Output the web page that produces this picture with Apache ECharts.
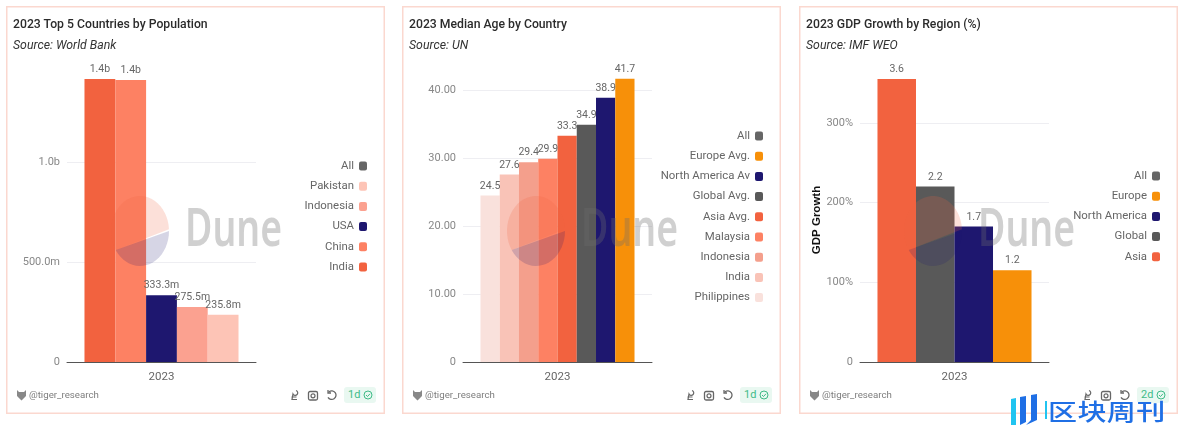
<!DOCTYPE html>
<html>
<head>
<meta charset="utf-8">
<title>Dune charts</title>
<script src="https://cdn.jsdelivr.net/npm/echarts@6/dist/echarts.min.js"></script>
<style>
html, body { margin: 0; padding: 0; background: #fff; width: 1189px; height: 425px; overflow: hidden; font-family: Roboto, sans-serif; }
.card { position: absolute; top: 6px; width: 379px; height: 408px; box-shadow: inset 0 0 0 1.5px #fbd8cf; }
.chart { position: absolute; left: 0; top: 0; width: 379px; height: 408px; }
.title { position: absolute; left: 7px; top: 10px; font-size: 13px; font-weight: 500; color: #2b2b2b; white-space: nowrap; transform: scaleX(0.94); transform-origin: left; }
.source { position: absolute; left: 7px; top: 32px; font-size: 12.3px; font-style: italic; color: #333; white-space: nowrap; }
.owner { position: absolute; left: 23px; top: 383px; font-size: 9.7px; color: #7d7d7d; }
.crest { position: absolute; left: 10px; top: 383px; }
.tools { position: absolute; left: 281px; top: 382px; }
.badge { position: absolute; left: 338px; top: 381px; width: 32px; height: 16px; border-radius: 3px; background: #e9f8f1; color: #3fbb88; font-size: 11px; line-height: 16px; padding-left: 4px; box-sizing: border-box; }
.badge svg { position: absolute; left: 19px; top: 3px; }
#brand { position: absolute; left: 1006px; top: 394px; width: 183px; height: 31px; }
#brand span { position: absolute; left: 42px; top: -5px; font-family: "Noto Sans CJK SC"; font-size: 29px; font-weight: 500; color: #1f6fe5; letter-spacing: 0.4px; white-space: nowrap; transform: scaleY(0.8); transform-origin: center; }
</style>
</head>
<body>
<div id="page"></div>
<div id="brand">
  <svg width="42" height="31" style="position:absolute;left:4px;top:0">
    <path d="M1 5 L6 4 L6 31 L1 31 Z" fill="#21c4f0"/>
    <path d="M10 3 L16 2 L16 28 L10 31 Z" fill="#1f6fe5"/>
    <path d="M21 1 L27 0 L27 26 L16 31 L21 26 Z" fill="#1f6fe5"/>
    <rect x="35" y="7" width="2" height="18" fill="#21c4f0"/>
  </svg>
  <span>区块周刊</span>
</div>
<script>
const popCountries = ['India', 'China', 'USA', 'Indonesia', 'Pakistan']
const popValues = [1415e6, 1410e6, 333.3e6, 275.5e6, 235.8e6]
const popLabels = ['1.4b', '1.4b', '333.3m', '275.5m', '235.8m']
const popColors = ['#f2623f', '#fd8163', '#1e176f', '#fba190', '#fdc4b6']
const popTicks = { 0: '0', 500000000: '500.0m', 1000000000: '1.0b' }

const ageCountries = ['Philippines', 'India', 'Indonesia', 'Malaysia', 'Asia Avg.', 'Global Avg.', 'North America Avg.', 'Europe Avg.']
const ageValues = [24.5, 27.6, 29.4, 29.9, 33.3, 34.9, 38.9, 41.7]
const ageLabels = ['24.5', '27.6', '29.4', '29.9', '33.3', '34.9', '38.9', '41.7']
const ageColors = ['#f9e1dc', '#f9c3b7', '#f49f8c', '#fd8163', '#f2623f', '#595959', '#1e176f', '#f79009']
const ageTicks = { 0: '0', 10: '10.00', 20: '20.00', 30: '30.00', 40: '40.00' }

const gdpRegions = ['Asia', 'Global', 'North America', 'Europe']
const gdpValues = [3.55, 2.2, 1.7, 1.15]
const gdpLabels = ['3.6', '2.2', '1.7', '1.2']
const gdpColors = ['#f2623f', '#595959', '#1e176f', '#f79009']
const gdpTicks = { 0: '0', 1: '100%', 2: '200%', 3: '300%' }

const years = ['2023']
const FONT = 'Roboto'

const personIcon = '<path d="M9 2.500a2.500 2.500 0 1 1-3 3.500l-1 5.500h5M4.500 9h5" fill="none" stroke="#666" stroke-width="1.200"/>'
const cameraIcon = '<rect x="21.500" y="3.500" width="9" height="8.500" rx="1.500" fill="none" stroke="#666" stroke-width="1.300"/><circle cx="26" cy="7.800" r="2" fill="none" stroke="#666" stroke-width="1.200"/>'
const undoIcon = '<path d="M42 3.800a4.300 4.300 0 1 1-1 5.500M41 2v3h3" fill="none" stroke="#666" stroke-width="1.300"/>'
const checkIcon = '<circle cx="5" cy="5" r="4" fill="none" stroke="#3fbb88" stroke-width="1"/><path d="M3 5l1.500 1.500L7 3.800" fill="none" stroke="#3fbb88" stroke-width="1"/>'

// logo outline pieces, an arc of the ellipse closed by its chord
function logoArc (from, to) {
  const points = []
  for (let deg = from; deg <= to; deg += 7) {
    const a = deg * Math.PI / 180
    points.push([134 + 29 * Math.cos(a), 225 + 35 * Math.sin(a)])
  }
  return points
}

function makeCard (cfg) {
  const card = document.createElement('div')
  card.className = 'card'
  card.style.left = cfg.left + 'px'
  card.innerHTML =
    '<div class="chart"></div>' +
    '<div class="title">' + cfg.title + '</div>' +
    '<div class="source">' + cfg.source + '</div>' +
    '<svg class="crest" width="11" height="12"><path d="M1 1l2 2h5l2-2v6l-4.500 4.500L1 7z" fill="#888"/></svg>' +
    '<div class="owner">@tiger_research</div>' +
    '<svg class="tools" width="56" height="15">' + personIcon + cameraIcon + undoIcon + '</svg>' +
    '<div class="badge">' + cfg.age + '<svg width="10" height="10">' + checkIcon + '</svg></div>'
  document.getElementById('page').appendChild(card)

  const chart = echarts.init(card.querySelector('.chart'))
  const series = cfg.names.map((name, i) => ({
    name: name,
    type: 'bar',
    data: [cfg.values[i]],
    barGap: 0,
    barCategoryGap: '18.5%',
    itemStyle: { color: cfg.colors[i] },
    label: {
      show: true,
      position: 'top',
      distance: 4,
      color: '#666',
      fontFamily: FONT,
      fontSize: 10.5,
      formatter: () => cfg.labels[i]
    }
  }))
  // "All" is only a legend entry, it has no bar of its own
  series.push({ name: 'All', type: 'line', data: [], itemStyle: { color: '#666' } })

  chart.setOption({
    animation: false,
    grid: { left: 61, width: 189, top: 356 - cfg.plotHeight, height: cfg.plotHeight },
    legend: {
      orient: 'vertical',
      right: 18,
      top: cfg.legendTop,
      padding: 0,
      align: 'right',
      icon: 'roundRect',
      itemWidth: 8,
      itemHeight: 9,
      itemGap: 6.2,
      selectedMode: false,
      data: ['All'].concat(cfg.names.slice().reverse()),
      textStyle: { color: '#666', fontFamily: FONT, fontSize: 11.4, lineHeight: 14, width: 95, overflow: 'truncate', ellipsis: '' }
    },
    xAxis: {
      type: 'category',
      data: years,
      axisTick: { show: false },
      axisLine: { lineStyle: { color: '#555', width: 1 } },
      axisLabel: { color: '#666', fontFamily: FONT, fontSize: 11.5, margin: 9.5 }
    },
    yAxis: {
      type: 'value',
      min: 0,
      max: cfg.max,
      interval: cfg.interval,
      name: cfg.axisName,
      nameLocation: 'middle',
      nameGap: 27,
      nameTextStyle: { color: '#111', fontFamily: 'Liberation Sans', fontSize: 11.5, fontWeight: 'bold', padding: [0, 11, 0, 0] },
      axisLabel: {
        color: '#888',
        fontFamily: FONT,
        fontSize: 11,
        margin: 7,
        showMaxLabel: false,
        formatter: v => cfg.ticks[v] || ''
      },
      splitLine: { showMaxLine: false, lineStyle: { color: '#eeeef2' } }
    },
    series: series,
    graphic: [
      { type: 'polygon', z: 100, shape: { points: logoArc(147, 360) }, style: { fill: 'rgba(242,98,63,0.2)' }, silent: true },
      { type: 'polygon', z: 100, shape: { points: logoArc(0, 147) }, style: { fill: 'rgba(30,23,111,0.18)' }, silent: true },
      { type: 'text', z: 100, x: 179, y: 199, scaleX: 0.72, style: { text: 'Dune', font: '600 52px "Noto Sans"', fill: 'rgba(110,110,110,0.32)' }, silent: true }
    ]
  })
}

makeCard({
  left: 6,
  title: '2023 Top 5 Countries by Population',
  source: 'Source: World Bank',
  age: '1d',
  names: popCountries,
  values: popValues,
  labels: popLabels,
  colors: popColors,
  ticks: popTicks,
  plotHeight: 290,
  max: 1450e6,
  interval: 500e6,
  legendTop: 153
})

makeCard({
  left: 402,
  title: '2023 Median Age by Country',
  source: 'Source: UN',
  age: '1d',
  names: ageCountries,
  values: ageValues,
  labels: ageLabels,
  colors: ageColors,
  ticks: ageTicks,
  plotHeight: 299,
  max: 44,
  interval: 10,
  legendTop: 123
})

makeCard({
  left: 799,
  title: '2023 GDP Growth by Region (%)',
  source: 'Source: IMF WEO',
  age: '2d',
  names: gdpRegions,
  values: gdpValues,
  labels: gdpLabels,
  colors: gdpColors,
  ticks: gdpTicks,
  plotHeight: 295,
  max: 3.7,
  interval: 1,
  legendTop: 163,
  axisName: 'GDP Growth'
})
</script>
</body>
</html>
